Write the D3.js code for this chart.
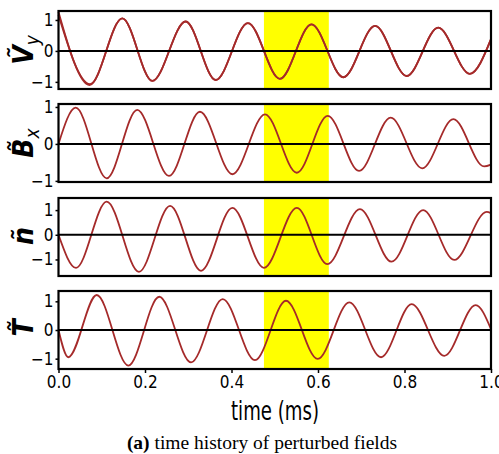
<!DOCTYPE html>
<html>
<head>
<meta charset="utf-8">
<script src="https://cdn.jsdelivr.net/npm/d3@7"></script>
<style>
  body { margin: 0; background: #fff; }
  text { font-family: "DejaVu Sans Condensed", "DejaVu Sans", sans-serif; font-stretch: condensed; }
</style>
</head>
<body>
<script>
// time history of perturbed fields (extrema of each trace)
const xTicks = [0, 0.2, 0.4, 0.6, 0.8, 1.0]
const yTicks = [-1, 0, 1]
const highlight = [0.475, 0.625]

const vyT = [0, 0.073, 0.1475, 0.217, 0.294, 0.3635, 0.438, 0.512, 0.585, 0.6585, 0.732, 0.805, 0.878, 0.951, 1.0]
const vyV = [1.16, -1.07, 1.05, -0.97, 0.95, -0.94, 0.9, -0.9, 0.86, -0.85, 0.81, -0.81, 0.75, -0.74, 0.38]
// second trace, only differs from Vy at early time (thick start)
const vy2T = [0, 0.072, 0.1475, 0.217, 0.294, 0.3635, 0.438, 0.512, 0.585, 0.6585, 0.732, 0.805, 0.878, 0.951, 1.0]
const vy2V = [1.26, -1.1, 1.05, -0.97, 0.95, -0.94, 0.9, -0.9, 0.86, -0.85, 0.81, -0.81, 0.75, -0.74, 0.38]

const bxT = [0, 0.0398, 0.1114, 0.182, 0.2555, 0.327, 0.402, 0.4775, 0.551, 0.6225, 0.695, 0.768, 0.841, 0.913, 0.984, 1.0]
const bxV = [0, 0.98, -0.93, 0.92, -0.865, 0.87, -0.82, 0.8, -0.78, 0.76, -0.73, 0.71, -0.66, 0.67, -0.61, -0.56]

const nT = [0, 0.0405, 0.1114, 0.186, 0.258, 0.3295, 0.402, 0.475, 0.551, 0.6215, 0.697, 0.77, 0.843, 0.915, 0.99, 1.0]
const nV = [0, -1.34, 1.34, -1.5, 1.17, -1.46, 1.09, -1.34, 1.09, -1.19, 1.04, -1.09, 1.0, -1.02, 0.93, 0.88]

const tT = [0, 0.0227, 0.0883, 0.1614, 0.233, 0.3064, 0.3797, 0.4543, 0.526, 0.5993, 0.6724, 0.7457, 0.8166, 0.892, 0.9646, 1.0]
const tV = [0, -0.95, 1.22, -1.24, 1.16, -1.13, 1.08, -1.05, 1.02, -1.01, 0.965, -0.95, 0.9, -0.9, 0.87, 0.03]

const W = 499, H = 454
const lineColor = '#a52a2a'

const panels = [
  { top: 11, bottom: 89, domain: [-1.23, 1.29], series: [[vyT, vyV], [vy2T, vy2V]], sym: 'V\u0303', sub: 'y', ly: 50 },
  { top: 104, bottom: 182, domain: [-1.03, 1.08], series: [[bxT, bxV]], sym: 'B\u0303', sub: 'x', ly: 143 },
  { top: 198, bottom: 276, domain: [-1.67, 1.49], series: [[nT, nV]], sym: 'n\u0303', sub: null, ly: 236 },
  { top: 291, bottom: 369, domain: [-1.36, 1.36], series: [[tT, tV]], sym: 'T\u0303', sub: null, ly: 328 }
]

const svg = d3.select('body').append('svg').attr('width', W).attr('height', H)

const x = d3.scaleLinear().domain([0, 1]).range([58.5, 491])

panels.forEach((p, i) => {
  const y = d3.scaleLinear().domain(p.domain).range([p.bottom, p.top])
  const g = svg.append('g')

  g.append('rect')
    .attr('x', x(highlight[0])).attr('width', x(highlight[1]) - x(highlight[0]))
    .attr('y', p.top).attr('height', p.bottom - p.top)
    .attr('fill', '#ffff00')

  const line = d3.line().x(d => x(d[0])).y(d => y(d[1])).curve(d3.curveMonotoneX)
  p.series.forEach(s => {
    const pts = s[0].map((t, k) => [t, s[1][k]])
    g.append('path').attr('d', line(pts))
      .attr('fill', 'none').attr('stroke', lineColor).attr('stroke-width', 1.8)
  })

  g.append('line')
    .attr('x1', x(0)).attr('x2', x(1)).attr('y1', y(0)).attr('y2', y(0))
    .attr('stroke', '#000').attr('stroke-width', 2)

  g.append('rect')
    .attr('x', x(0)).attr('y', p.top)
    .attr('width', x(1) - x(0)).attr('height', p.bottom - p.top)
    .attr('fill', 'none').attr('stroke', '#000').attr('stroke-width', 2.2)

  const ya = g.append('g').attr('transform', `translate(${x(0)},0)`)
    .call(d3.axisLeft(y).tickValues(yTicks).tickSize(3).tickPadding(2)
      .tickFormat(d => d < 0 ? '\u2212' + Math.abs(d) : d))
  ya.select('.domain').remove()
  ya.selectAll('.tick line').attr('stroke-width', 1.5)
  ya.selectAll('text').attr('font-size', 17).attr('fill', '#000')
    .style('font-family', '"DejaVu Sans Condensed", "DejaVu Sans", sans-serif')

  if (i === panels.length - 1) {
    const xa = g.append('g').attr('transform', `translate(0,${p.bottom})`)
      .call(d3.axisBottom(x).tickValues(xTicks).tickSize(4).tickPadding(3).tickFormat(d3.format('.1f')))
    xa.select('.domain').remove()
    xa.selectAll('.tick line').attr('stroke-width', 1.5)
    xa.selectAll('text').attr('font-size', 17).attr('fill', '#000')
      .style('font-family', '"DejaVu Sans Condensed", "DejaVu Sans", sans-serif')
  }

  const lbl = svg.append('text')
    .attr('transform', `translate(33,${p.ly}) rotate(-90)`)
    .attr('text-anchor', 'middle')
    .attr('font-size', 28).attr('font-style', 'italic').attr('font-weight', 'bold')
    .style('font-family', '"DejaVu Sans", sans-serif')
  lbl.append('tspan').text(p.sym)
  if (p.sub) lbl.append('tspan').attr('font-size', 19).attr('dy', 6).attr('font-weight', 'normal').text(p.sub)
})

svg.append('text')
  .attr('x', 275).attr('y', 420)
  .attr('text-anchor', 'middle').attr('font-size', 27)
  .attr('textLength', 88).attr('lengthAdjust', 'spacingAndGlyphs')
  .style('font-family', '"DejaVu Sans Condensed", "DejaVu Sans", sans-serif')
  .text('time (ms)')

const cap = svg.append('text')
  .attr('x', 262).attr('y', 449)
  .attr('text-anchor', 'middle').attr('font-size', 19.5)
  .style('font-family', '"Liberation Serif", "Times New Roman", serif')
cap.append('tspan').attr('font-weight', 'bold').text('(a)')
cap.append('tspan').text(' time history of perturbed fields')
</script>
</body>
</html>
